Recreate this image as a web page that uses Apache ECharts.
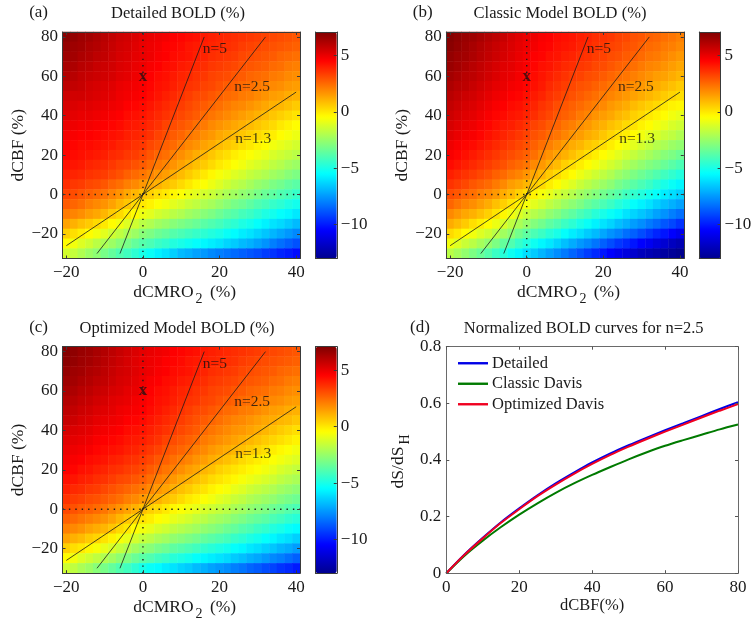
<!DOCTYPE html>
<html><head><meta charset="utf-8">
<style>html,body{margin:0;padding:0;background:#fff}#c{width:756px;height:623px}</style>
<script src="https://cdn.jsdelivr.net/npm/echarts@6/dist/echarts.min.js"></script>
</head><body><div id="c"></div>
<script>
const xCategories=[-20,-18,-16,-14,-12,-10,-8,-6,-4,-2,0,2,4,6,8,10,12,14,16,18,20,22,24,26,28,30,32,34,36,38,40];
const yCategories=[80,75,70,65,60,55,50,45,40,35,30,25,20,15,10,5,0,-5,-10,-15,-20,-25,-30];
const xTicks=[-20,0,20,40];
const yTicks=[-20,0,20,40,60,80];
const colorbarTicks=[-10,-5,0,5];
const detailedBold=[
[6.9,6.7,6.5,6.4,6.2,6.0,5.8,5.6,5.5,5.3,5.1,5.0,4.9,4.8,4.6,4.5,4.4,4.3,4.1,4.0,3.9,3.8,3.7,3.6,3.5,3.4,3.3,3.2,3.1,3.0,2.9],
[6.7,6.5,6.4,6.2,6.1,5.9,5.7,5.5,5.4,5.2,5.0,4.9,4.8,4.6,4.5,4.4,4.2,4.1,4.0,3.9,3.8,3.7,3.6,3.4,3.3,3.2,3.1,3.0,2.9,2.8,2.7],
[6.5,6.4,6.2,6.1,5.9,5.8,5.6,5.4,5.3,5.1,5.0,4.9,4.7,4.6,4.4,4.3,4.2,4.0,3.9,3.7,3.6,3.5,3.4,3.2,3.1,3.0,2.9,2.8,2.6,2.5,2.4],
[6.3,6.2,6.0,5.9,5.7,5.6,5.5,5.3,5.2,5.0,4.9,4.7,4.6,4.4,4.3,4.1,4.0,3.8,3.7,3.5,3.4,3.3,3.2,3.0,2.9,2.8,2.7,2.5,2.4,2.2,2.1],
[6.1,6.0,5.8,5.7,5.6,5.5,5.4,5.2,5.1,4.9,4.8,4.6,4.4,4.3,4.1,3.9,3.8,3.6,3.5,3.3,3.2,3.1,2.9,2.8,2.6,2.5,2.4,2.2,2.1,1.9,1.8],
[5.9,5.8,5.7,5.5,5.4,5.3,5.2,5.0,4.9,4.8,4.7,4.5,4.3,4.2,4.0,3.8,3.6,3.5,3.3,3.2,3.0,2.8,2.7,2.5,2.4,2.2,2.1,1.9,1.8,1.6,1.5],
[5.6,5.5,5.5,5.4,5.3,5.2,5.1,4.9,4.8,4.7,4.6,4.4,4.2,4.0,3.8,3.6,3.4,3.2,3.1,2.9,2.7,2.5,2.4,2.2,2.1,1.9,1.7,1.5,1.4,1.2,1.1],
[5.4,5.3,5.2,5.2,5.1,5.0,4.9,4.8,4.6,4.5,4.4,4.2,4.0,3.8,3.6,3.4,3.2,3.0,2.8,2.6,2.4,2.2,2.0,1.9,1.7,1.5,1.3,1.1,1.0,0.8,0.6],
[5.2,5.1,5.0,5.0,4.9,4.8,4.7,4.6,4.4,4.3,4.2,4.0,3.8,3.6,3.4,3.2,3.0,2.8,2.5,2.3,2.1,1.9,1.7,1.5,1.3,1.1,0.9,0.7,0.5,0.3,0.1],
[5.0,4.9,4.8,4.8,4.7,4.6,4.5,4.4,4.2,4.1,4.0,3.8,3.6,3.3,3.1,2.9,2.7,2.4,2.2,1.9,1.7,1.5,1.3,1.1,0.9,0.7,0.5,0.3,0,-0.2,-0.4],
[4.8,4.7,4.6,4.6,4.5,4.4,4.3,4.2,4.0,3.9,3.8,3.6,3.3,3.1,2.8,2.6,2.3,2.1,1.8,1.6,1.3,1.1,0.9,0.7,0.5,0.3,0.1,-0.1,-0.4,-0.6,-0.8],
[4.6,4.5,4.4,4.4,4.3,4.2,4.1,3.9,3.8,3.6,3.5,3.2,3.0,2.7,2.5,2.2,1.9,1.7,1.4,1.2,0.9,0.7,0.5,0.2,0,-0.2,-0.4,-0.7,-0.9,-1.1,-1.3],
[4.5,4.4,4.3,4.2,4.1,4.0,3.8,3.7,3.5,3.4,3.2,2.9,2.6,2.4,2.1,1.8,1.5,1.2,1.0,0.7,0.4,0.2,-0.1,-0.3,-0.5,-0.7,-0.9,-1.2,-1.4,-1.6,-1.8],
[4.3,4.2,4.1,3.9,3.8,3.7,3.5,3.3,3.2,3.0,2.8,2.5,2.2,2.0,1.7,1.4,1.1,0.8,0.6,0.3,0,-0.2,-0.5,-0.7,-1.0,-1.2,-1.4,-1.7,-1.9,-2.2,-2.4],
[4.0,3.9,3.8,3.6,3.5,3.4,3.2,3.0,2.7,2.5,2.3,2.0,1.7,1.5,1.2,0.9,0.6,0.3,0,-0.3,-0.6,-0.8,-1.1,-1.3,-1.6,-1.8,-2.0,-2.3,-2.5,-2.8,-3.0],
[3.7,3.5,3.4,3.2,3.1,2.9,2.6,2.4,2.1,1.9,1.6,1.3,1.1,0.8,0.6,0.3,0,-0.3,-0.5,-0.8,-1.1,-1.4,-1.7,-1.9,-2.2,-2.5,-2.7,-3.0,-3.2,-3.5,-3.7],
[3.3,3.1,2.9,2.7,2.5,2.3,2.0,1.7,1.3,1.0,0.7,0.5,0.2,0,-0.3,-0.5,-0.8,-1.0,-1.3,-1.5,-1.8,-2.1,-2.3,-2.6,-2.8,-3.1,-3.4,-3.6,-3.9,-4.1,-4.4],
[2.8,2.6,2.4,2.1,1.9,1.7,1.4,1.0,0.7,0.3,0,-0.2,-0.5,-0.7,-1.0,-1.2,-1.5,-1.7,-2.0,-2.2,-2.5,-2.8,-3.1,-3.3,-3.6,-3.9,-4.1,-4.4,-4.6,-4.9,-5.1],
[2.2,2.0,1.8,1.5,1.3,1.0,0.6,0.3,-0.1,-0.4,-0.8,-1.0,-1.3,-1.5,-1.8,-2.0,-2.3,-2.5,-2.8,-3.0,-3.3,-3.6,-3.8,-4.1,-4.3,-4.6,-4.9,-5.1,-5.4,-5.6,-5.9],
[1.4,1.1,0.8,0.6,0.3,0,-0.4,-0.7,-1.1,-1.4,-1.8,-2.0,-2.3,-2.5,-2.8,-3.0,-3.2,-3.4,-3.7,-3.9,-4.1,-4.4,-4.6,-4.9,-5.1,-5.4,-5.7,-6.0,-6.2,-6.5,-6.8],
[0.5,0.2,-0.1,-0.4,-0.7,-1,-1.4,-1.7,-2.1,-2.4,-2.8,-3.0,-3.3,-3.5,-3.8,-4,-4.2,-4.4,-4.6,-4.8,-5,-5.3,-5.5,-5.8,-6.0,-6.3,-6.6,-6.9,-7.2,-7.5,-7.8],
[-0.4,-0.7,-1.1,-1.4,-1.8,-2.1,-2.4,-2.8,-3.1,-3.5,-3.8,-4.0,-4.3,-4.5,-4.8,-5,-5.2,-5.4,-5.6,-5.8,-6,-6.3,-6.5,-6.8,-7,-7.3,-7.6,-8,-8.3,-8.6,-8.9],
[-1.3,-1.6,-2.0,-2.4,-2.7,-3.1,-3.5,-3.9,-4.2,-4.6,-5.0,-5.3,-5.7,-6.0,-6.4,-6.8,-7,-7.3,-7.5,-7.8,-8,-8.2,-8.4,-8.6,-8.8,-9,-9.3,-9.5,-9.8,-10,-10.3]
];
const classicBold=[
[7.0,6.8,6.6,6.5,6.3,6.1,5.9,5.7,5.4,5.2,5.0,4.9,4.7,4.6,4.4,4.3,4.2,4.0,3.9,3.7,3.6,3.5,3.3,3.2,3.0,2.9,2.7,2.6,2.4,2.3,2.1],
[6.9,6.7,6.5,6.3,6.1,5.9,5.7,5.5,5.3,5.1,4.9,4.8,4.6,4.5,4.3,4.2,4.1,3.9,3.8,3.6,3.5,3.3,3.2,3.0,2.9,2.7,2.5,2.4,2.2,2.1,1.9],
[6.7,6.5,6.4,6.2,6.0,5.8,5.6,5.4,5.2,5.0,4.8,4.6,4.5,4.3,4.2,4.0,3.9,3.7,3.6,3.4,3.3,3.1,3.0,2.8,2.7,2.5,2.3,2.2,2.0,1.8,1.6],
[6.6,6.4,6.2,6.0,5.8,5.6,5.4,5.2,5.1,4.9,4.7,4.5,4.3,4.2,4.0,3.8,3.7,3.5,3.4,3.2,3.1,2.9,2.7,2.6,2.4,2.2,2.0,1.9,1.7,1.5,1.3],
[6.4,6.2,6.0,5.9,5.7,5.5,5.3,5.1,5.0,4.8,4.6,4.4,4.2,4.0,3.8,3.6,3.4,3.3,3.1,3.0,2.8,2.6,2.4,2.3,2.1,1.9,1.7,1.5,1.4,1.2,1.0],
[6.2,6.0,5.9,5.7,5.5,5.3,5.1,5.0,4.8,4.7,4.5,4.3,4.1,3.8,3.6,3.4,3.2,3.0,2.9,2.7,2.5,2.3,2.1,2.0,1.8,1.6,1.4,1.2,1.0,0.8,0.6],
[6.0,5.8,5.6,5.5,5.3,5.1,4.9,4.8,4.6,4.5,4.3,4.1,3.9,3.6,3.4,3.2,3.0,2.8,2.6,2.4,2.2,2.0,1.8,1.6,1.4,1.2,1.0,0.8,0.6,0.4,0.2],
[5.8,5.6,5.4,5.3,5.1,4.9,4.7,4.6,4.4,4.3,4.1,3.9,3.6,3.4,3.1,2.9,2.7,2.5,2.3,2.1,1.9,1.6,1.4,1.2,0.9,0.7,0.5,0.3,0,-0.2,-0.3],
[5.6,5.4,5.2,5.1,4.9,4.7,4.5,4.4,4.2,4.1,3.9,3.7,3.4,3.2,2.9,2.7,2.5,2.2,2.0,1.7,1.5,1.3,1.0,0.8,0.5,0.3,0,-0.2,-0.4,-0.7,-0.9],
[5.4,5.2,5.0,4.9,4.7,4.5,4.3,4.1,4.0,3.8,3.6,3.3,3.1,2.8,2.6,2.3,2.1,1.8,1.6,1.3,1.1,0.8,0.6,0.3,0.1,-0.2,-0.4,-0.7,-0.9,-1.2,-1.4],
[5.2,5.0,4.8,4.7,4.5,4.3,4.1,3.9,3.7,3.5,3.3,3.0,2.8,2.5,2.3,2.0,1.7,1.5,1.2,1.0,0.7,0.4,0.1,-0.1,-0.4,-0.7,-1.0,-1.2,-1.5,-1.7,-2.0],
[4.9,4.7,4.5,4.4,4.2,4.0,3.8,3.6,3.4,3.2,3.0,2.7,2.4,2.1,1.8,1.5,1.2,1.0,0.7,0.5,0.2,-0.1,-0.4,-0.7,-1.0,-1.3,-1.6,-1.9,-2.1,-2.4,-2.6],
[4.7,4.5,4.3,4.1,3.9,3.7,3.5,3.3,3.1,2.9,2.7,2.4,2.0,1.7,1.4,1.1,0.8,0.5,0.2,-0.1,-0.4,-0.7,-1.0,-1.3,-1.6,-1.9,-2.2,-2.5,-2.8,-3.0,-3.3],
[4.4,4.2,4.0,3.8,3.6,3.4,3.2,3.0,2.7,2.5,2.3,1.9,1.6,1.2,0.9,0.5,0.2,-0.1,-0.4,-0.7,-1.0,-1.3,-1.6,-2.0,-2.3,-2.6,-2.9,-3.1,-3.4,-3.7,-4.0],
[4.0,3.8,3.6,3.4,3.2,3.0,2.7,2.5,2.2,2.0,1.7,1.3,1.0,0.6,0.3,-0.1,-0.4,-0.8,-1.1,-1.4,-1.7,-2.0,-2.4,-2.7,-3.0,-3.3,-3.6,-3.9,-4.2,-4.5,-4.8],
[3.6,3.4,3.2,2.9,2.7,2.5,2.2,1.9,1.5,1.3,1.0,0.6,0.3,-0.1,-0.4,-0.8,-1.1,-1.5,-1.8,-2.1,-2.4,-2.7,-3.1,-3.4,-3.7,-4.0,-4.3,-4.7,-5.0,-5.3,-5.6],
[3.1,2.9,2.6,2.4,2.1,1.9,1.6,1.2,0.9,0.5,0.2,-0.2,-0.6,-0.9,-1.3,-1.6,-1.9,-2.3,-2.6,-2.9,-3.2,-3.5,-3.8,-4.2,-4.5,-4.8,-5.1,-5.4,-5.8,-6.1,-6.4],
[2.6,2.3,2.0,1.8,1.5,1.2,0.8,0.5,0.1,-0.2,-0.6,-1.0,-1.3,-1.7,-2.0,-2.4,-2.7,-3.0,-3.4,-3.7,-4.0,-4.3,-4.7,-5.0,-5.4,-5.7,-6.0,-6.4,-6.7,-7.0,-7.3],
[1.9,1.6,1.3,1.1,0.8,0.5,0.1,-0.3,-0.7,-1.1,-1.5,-1.9,-2.2,-2.6,-2.9,-3.3,-3.6,-4.0,-4.3,-4.7,-5.0,-5.3,-5.6,-6.0,-6.3,-6.6,-6.9,-7.3,-7.6,-8.0,-8.3],
[1.2,0.9,0.6,0.2,-0.1,-0.4,-0.8,-1.2,-1.7,-2.1,-2.5,-2.9,-3.2,-3.6,-3.9,-4.3,-4.6,-5.0,-5.3,-5.7,-6,-6.3,-6.7,-7.0,-7.4,-7.7,-8.1,-8.4,-8.8,-9.1,-9.5],
[0.3,0,-0.4,-0.7,-1.1,-1.4,-1.8,-2.3,-2.7,-3.2,-3.6,-4.0,-4.3,-4.7,-5.0,-5.4,-5.8,-6.1,-6.5,-6.8,-7.2,-7.6,-7.9,-8.3,-8.6,-9,-9.4,-9.8,-10.1,-10.5,-10.9],
[-0.7,-1.1,-1.5,-1.8,-2.2,-2.6,-3.0,-3.5,-3.9,-4.4,-4.8,-5.2,-5.6,-5.9,-6.3,-6.7,-7.1,-7.5,-7.8,-8.2,-8.6,-9,-9.4,-9.7,-10.1,-10.5,-10.8,-11.2,-11.5,-11.9,-12.2],
[-1.8,-2.2,-2.6,-3.0,-3.4,-3.8,-4.3,-4.7,-5.2,-5.6,-6.1,-6.5,-6.9,-7.3,-7.7,-8.1,-8.5,-8.9,-9.3,-9.7,-10.1,-10.5,-10.9,-11.2,-11.6,-12,-12.2,-12.4,-12.6,-12.8,-13]
];
const optimizedBold=[
[7.0,6.8,6.6,6.5,6.3,6.1,5.9,5.7,5.5,5.3,5.1,5.0,4.9,4.8,4.6,4.5,4.4,4.3,4.1,4.0,3.9,3.8,3.7,3.6,3.5,3.4,3.3,3.2,3.1,3.0,2.9],
[6.9,6.7,6.5,6.4,6.2,6.0,5.8,5.6,5.4,5.2,5.0,4.9,4.8,4.6,4.5,4.4,4.2,4.1,4.0,3.9,3.8,3.7,3.6,3.4,3.3,3.2,3.1,3.0,2.9,2.8,2.7],
[6.7,6.5,6.4,6.2,6.1,5.9,5.7,5.5,5.4,5.2,5.0,4.9,4.7,4.6,4.4,4.3,4.2,4.0,3.9,3.7,3.6,3.5,3.4,3.2,3.1,3.0,2.9,2.8,2.6,2.5,2.4],
[6.5,6.4,6.2,6.1,5.9,5.8,5.6,5.4,5.3,5.1,4.9,4.7,4.6,4.4,4.3,4.1,4.0,3.8,3.7,3.5,3.4,3.3,3.2,3.0,2.9,2.8,2.7,2.5,2.4,2.2,2.1],
[6.3,6.2,6.0,5.9,5.7,5.6,5.4,5.3,5.1,5.0,4.8,4.6,4.4,4.3,4.1,3.9,3.8,3.6,3.5,3.3,3.2,3.1,2.9,2.8,2.6,2.5,2.4,2.2,2.1,1.9,1.8],
[6.1,6.0,5.8,5.7,5.5,5.4,5.2,5.1,5.0,4.8,4.7,4.5,4.3,4.2,4.0,3.8,3.6,3.5,3.3,3.2,3.0,2.8,2.7,2.5,2.4,2.2,2.1,1.9,1.8,1.6,1.5],
[5.9,5.8,5.6,5.5,5.3,5.2,5.1,4.9,4.8,4.7,4.6,4.4,4.2,4.0,3.8,3.6,3.4,3.2,3.1,2.9,2.7,2.5,2.4,2.2,2.1,1.9,1.7,1.5,1.4,1.2,1.1],
[5.7,5.6,5.4,5.3,5.1,5.0,4.9,4.8,4.6,4.5,4.4,4.2,4.0,3.8,3.6,3.4,3.2,3.0,2.8,2.6,2.4,2.2,2.0,1.9,1.7,1.5,1.3,1.2,1.0,0.9,0.7],
[5.4,5.3,5.2,5.1,4.9,4.8,4.7,4.6,4.4,4.3,4.2,4.0,3.8,3.6,3.4,3.2,3.0,2.8,2.5,2.3,2.1,1.9,1.7,1.6,1.4,1.2,1.0,0.8,0.6,0.4,0.2],
[5.2,5.1,5.0,4.9,4.7,4.6,4.5,4.4,4.2,4.1,4.0,3.8,3.6,3.3,3.1,2.9,2.7,2.5,2.2,2.0,1.8,1.6,1.4,1.2,1.0,0.8,0.6,0.4,0.2,0,-0.2],
[5.0,4.9,4.8,4.7,4.5,4.4,4.3,4.2,4.0,3.9,3.7,3.5,3.3,3.0,2.8,2.6,2.4,2.1,1.9,1.6,1.4,1.2,1.0,0.8,0.6,0.4,0.2,-0.1,-0.3,-0.5,-0.7],
[4.8,4.7,4.6,4.4,4.3,4.2,4.0,3.9,3.7,3.6,3.4,3.2,2.9,2.7,2.4,2.2,2.0,1.7,1.5,1.2,1.0,0.8,0.6,0.3,0.1,-0.1,-0.3,-0.5,-0.7,-0.9,-1.1],
[4.6,4.5,4.3,4.2,4.0,3.9,3.7,3.6,3.4,3.3,3.1,2.8,2.6,2.3,2.1,1.8,1.5,1.3,1.0,0.8,0.5,0.3,0.1,-0.1,-0.3,-0.5,-0.7,-0.9,-1.2,-1.4,-1.6],
[4.3,4.2,4.0,3.9,3.7,3.6,3.4,3.2,3.1,2.9,2.7,2.4,2.1,1.9,1.6,1.3,1.1,0.8,0.6,0.3,0.1,-0.1,-0.3,-0.6,-0.8,-1,-1.2,-1.4,-1.7,-1.9,-2.1],
[4.0,3.8,3.7,3.5,3.4,3.2,3.0,2.8,2.6,2.4,2.2,1.9,1.6,1.4,1.1,0.8,0.6,0.3,0.1,-0.2,-0.4,-0.6,-0.9,-1.1,-1.4,-1.6,-1.8,-2.0,-2.3,-2.5,-2.7],
[3.6,3.4,3.3,3.1,3.0,2.8,2.6,2.4,2.1,1.9,1.6,1.3,1.1,0.8,0.6,0.3,0,-0.2,-0.5,-0.7,-1,-1.2,-1.5,-1.7,-2.0,-2.2,-2.4,-2.6,-2.9,-3.1,-3.3],
[3.2,3.0,2.8,2.7,2.5,2.3,2.0,1.7,1.4,1.1,0.8,0.5,0.3,0,-0.3,-0.5,-0.7,-0.9,-1.2,-1.4,-1.6,-1.8,-2.1,-2.3,-2.6,-2.8,-3.0,-3.3,-3.5,-3.8,-4],
[2.7,2.5,2.3,2.1,1.9,1.7,1.4,1.0,0.7,0.4,0.1,-0.1,-0.4,-0.6,-0.9,-1.1,-1.3,-1.6,-1.8,-2.1,-2.3,-2.5,-2.8,-3.0,-3.3,-3.5,-3.7,-4.0,-4.2,-4.5,-4.7],
[2.1,1.9,1.7,1.4,1.2,1.0,0.7,0.3,0,-0.4,-0.7,-0.9,-1.2,-1.4,-1.7,-1.9,-2.1,-2.3,-2.6,-2.8,-3,-3.3,-3.5,-3.8,-4.0,-4.3,-4.5,-4.8,-5.0,-5.3,-5.5],
[1.4,1.1,0.9,0.6,0.4,0.1,-0.2,-0.6,-0.9,-1.3,-1.6,-1.8,-2.1,-2.3,-2.6,-2.8,-3,-3.2,-3.5,-3.7,-3.9,-4.1,-4.4,-4.6,-4.9,-5.1,-5.4,-5.6,-5.9,-6.1,-6.4],
[0.5,0.2,0,-0.3,-0.6,-0.9,-1.2,-1.6,-1.9,-2.3,-2.6,-2.8,-3.1,-3.3,-3.6,-3.8,-4,-4.2,-4.5,-4.7,-4.9,-5.1,-5.4,-5.6,-5.9,-6.1,-6.4,-6.6,-6.9,-7.1,-7.4],
[-0.4,-0.7,-1.1,-1.4,-1.7,-2,-2.3,-2.7,-3,-3.4,-3.7,-3.9,-4.2,-4.4,-4.7,-4.9,-5.1,-5.4,-5.6,-5.8,-6,-6.2,-6.5,-6.7,-7,-7.2,-7.5,-7.8,-8,-8.3,-8.6],
[-1.4,-1.7,-2.1,-2.4,-2.8,-3.1,-3.5,-3.9,-4.2,-4.6,-5,-5.3,-5.5,-5.8,-6,-6.3,-6.5,-6.8,-7,-7.3,-7.5,-7.7,-8,-8.2,-8.5,-8.7,-9,-9.2,-9.5,-9.7,-10]
];
const n5Line=[[-6,-30],[16,80]];
const n25Line=[[-12,-30],[32,80]];
const n13Line=[[-20,-26],[40,52]];
const zeroVertical=[[0,-32.5],[0,82.5]];
const zeroHorizontal=[[-21,0],[41,0]];
const mapLabels=[[18.8,74,'n=5'],[28.5,54.7,'n=2.5'],[28.8,28,'n=1.3']];
const xMark=[[0,60,'x']];
const dCBF=[0,5,10,15,20,25,30,35,40,45,50,55,60,65,70,75,80];
const curveDetailed=[0,0.066,0.125,0.18,0.229,0.275,0.317,0.355,0.391,0.423,0.452,0.479,0.505,0.53,0.555,0.58,0.604];
const curveClassic=[0,0.062,0.115,0.163,0.207,0.247,0.284,0.317,0.347,0.375,0.402,0.427,0.45,0.47,0.489,0.508,0.525];
const curveOptimized=[0,0.065,0.123,0.178,0.226,0.272,0.313,0.351,0.386,0.418,0.447,0.474,0.5,0.525,0.55,0.574,0.597];

const FONT='"Liberation Serif","Times New Roman",serif';
const TEXT='#1a1a1a', FRAME='#3a3a3a';
const JET=['#00008f','#0000ff','#0080ff','#00ffff','#80ff80','#ffff00','#ff8000','#ff0000','#800000'];
const panels=[
 {rows:detailedBold,l:62.5,t:32,bar:315.5,title:'Detailed BOLD (%)',tag:'(a)',tc:178,ty:14,gc:38.6},
 {rows:classicBold,l:446.3,t:32,bar:699.3,title:'Classic Model BOLD (%)',tag:'(b)',tc:560,ty:14,gc:422.7},
 {rows:optimizedBold,l:62.5,t:346.7,bar:315.5,title:'Optimized Model BOLD (%)',tag:'(c)',tc:177,ty:329,gc:38.6}
];
const W=237.5,H=226.5;
const minus=v=>String(v).replace('-','\u2212');
const grids=[],xAxes=[],yAxes=[],series=[],vms=[],titles=[];
const tickFn=list=>(i,v)=>list.indexOf(Number(v))>=0;
const rich={s:{fontFamily:FONT,fontSize:14,color:TEXT,padding:[14,3,0,2]}};
const nameStyle={fontFamily:FONT,fontSize:17.5,color:TEXT,rich};
function addTitle(text,cx,cy,size){titles.push({text,left:cx,top:cy-size/2-1,textAlign:'center',padding:0,textStyle:{fontFamily:FONT,fontSize:size,fontWeight:'normal',color:TEXT}});}
function heatCells(rows){const out=[];rows.forEach((r,ri)=>r.forEach((v,ci)=>out.push([ci,yCategories.length-1-ri,v])));return out;}
const yCatAsc=yCategories.slice().reverse();

panels.forEach((p,pi)=>{
  const g=grids.length;
  grids.push({left:p.l,top:p.t,width:W,height:H,containLabel:false});
  const lineCommon={show:true,lineStyle:{color:FRAME,width:1},onZero:false};
  const xa=xAxes.length, ya=yAxes.length;
  xAxes.push({gridIndex:g,type:'category',position:'bottom',data:xCategories,z:10,axisLine:lineCommon,
    axisTick:{show:true,inside:true,length:3,alignWithLabel:true,interval:tickFn(xTicks),lineStyle:{color:FRAME}},
    axisLabel:{show:true,interval:tickFn(xTicks),margin:6,fontFamily:FONT,fontSize:17,color:TEXT,formatter:minus,hideOverlap:false},
    splitLine:{show:false},name:'dCMRO{s|2} (%)',nameLocation:'middle',nameGap:20,nameTextStyle:Object.assign({},nameStyle,{padding:[0,0,0,7]})});
  yAxes.push({gridIndex:g,type:'category',position:'left',data:yCatAsc,z:10,axisLine:lineCommon,
    axisTick:{show:true,inside:true,length:3,alignWithLabel:true,interval:tickFn(yTicks),lineStyle:{color:FRAME}},
    axisLabel:{show:true,interval:tickFn(yTicks),margin:4.5,fontFamily:FONT,fontSize:17,color:TEXT,formatter:minus,hideOverlap:false},
    splitLine:{show:false},name:'dCBF (%)',nameLocation:'middle',nameGap:33,nameTextStyle:nameStyle});
  xAxes.push({gridIndex:g,type:'value',position:'top',min:-21,max:41,z:10,axisLine:lineCommon,
    axisTick:{show:true,inside:true,length:3,customValues:xTicks,lineStyle:{color:FRAME}},axisLabel:{show:false},splitLine:{show:false}});
  yAxes.push({gridIndex:g,type:'value',position:'right',min:-32.5,max:82.5,z:10,axisLine:lineCommon,
    axisTick:{show:true,inside:true,length:3,customValues:yTicks,lineStyle:{color:FRAME}},axisLabel:{show:false},splitLine:{show:false}});
  const heatIndex=series.length;
  series.push({type:'heatmap',xAxisIndex:xa,yAxisIndex:ya,data:heatCells(p.rows),z:2,silent:true,itemStyle:{borderWidth:0},emphasis:{disabled:true},progressive:0});
  vms.push({type:'continuous',min:-13,max:7.1,seriesIndex:heatIndex,show:true,calculable:false,hoverLink:false,left:p.bar,top:p.t,itemWidth:21.3,itemHeight:H,padding:0,text:null,showLabel:false,inRange:{color:JET}});
  const line=(d,w,type)=>({type:'line',xAxisIndex:xa+1,yAxisIndex:ya+1,data:d,symbol:'none',silent:true,z:5,animation:false,lineStyle:{color:'#1c1c1c',width:w,type:type||'solid'}});
  series.push(line(n5Line,0.8),line(n25Line,0.8),line(n13Line,0.8));
  series.push(line(zeroVertical,1.4,[1.4,5]),line(zeroHorizontal,1.4,[1.4,5]));
  series.push({type:'scatter',xAxisIndex:xa+1,yAxisIndex:ya+1,data:mapLabels,symbolSize:0,silent:true,z:6,
    label:{show:true,position:'inside',formatter:q=>q.value[2],fontFamily:FONT,fontSize:15.5,color:'#111'}});
  series.push({type:'scatter',xAxisIndex:xa+1,yAxisIndex:ya+1,data:xMark,symbolSize:0,silent:true,z:6,
    label:{show:true,position:'inside',formatter:q=>q.value[2],fontFamily:FONT,fontSize:17,fontWeight:'bold',color:'#2a1010'}});
  addTitle(p.title,p.tc,p.ty,16.5);
  addTitle(p.tag,p.gc,p.ty,17);
  const gb=grids.length;
  grids.push({left:p.bar,top:p.t,width:21.3,height:H,containLabel:false,z:10});
  xAxes.push({gridIndex:gb,type:'value',show:true,position:'top',min:0,max:1,z:10,axisLine:lineCommon,axisTick:{show:false},axisLabel:{show:false},splitLine:{show:false}});
  xAxes.push({gridIndex:gb,type:'value',show:true,position:'bottom',min:0,max:1,z:10,axisLine:lineCommon,axisTick:{show:false},axisLabel:{show:false},splitLine:{show:false}});
  yAxes.push({gridIndex:gb,type:'value',position:'right',min:-13,max:7.1,z:10,axisLine:lineCommon,
    axisTick:{show:true,inside:true,length:3,customValues:colorbarTicks,lineStyle:{color:FRAME}},
    axisLabel:{show:true,customValues:colorbarTicks,margin:4,fontFamily:FONT,fontSize:17,color:TEXT,formatter:minus,hideOverlap:false},splitLine:{show:false}});
  yAxes.push({gridIndex:gb,type:'value',position:'left',min:-13,max:7.1,z:10,axisLine:lineCommon,axisTick:{show:false},axisLabel:{show:false},splitLine:{show:false}});
});

const gd=grids.length;
grids.push({left:446.3,top:346.7,width:291.7,height:226.5,containLabel:false});
const dFrame={show:true,lineStyle:{color:'#6a6a6a',width:1},onZero:false};
const dxa=xAxes.length, dya=yAxes.length;
xAxes.push({gridIndex:gd,type:'value',position:'bottom',min:0,max:80,interval:20,z:10,axisLine:dFrame,
  axisTick:{show:true,inside:true,length:3,lineStyle:{color:'#555'}},axisLabel:{margin:6,fontFamily:FONT,fontSize:17,color:TEXT,hideOverlap:false,showMinLabel:true,showMaxLabel:true},splitLine:{show:false},
  name:'dCBF(%)',nameLocation:'middle',nameGap:24,nameTextStyle:{fontFamily:FONT,fontSize:16.5,color:TEXT}});
yAxes.push({gridIndex:gd,type:'value',position:'left',min:0,max:0.8,interval:0.2,z:10,axisLine:dFrame,
  axisTick:{show:true,inside:true,length:3,lineStyle:{color:'#555'}},axisLabel:{margin:5,fontFamily:FONT,fontSize:17,color:TEXT,hideOverlap:false,formatter:v=>v===0?'0':v.toFixed(1)},splitLine:{show:false},
  name:'dS/dS{s|H}',nameLocation:'middle',nameGap:34,nameTextStyle:nameStyle});
xAxes.push({gridIndex:gd,type:'value',position:'top',min:0,max:80,interval:20,z:10,axisLine:dFrame,axisTick:{show:true,inside:true,length:3,lineStyle:{color:'#555'}},axisLabel:{show:false},splitLine:{show:false}});
yAxes.push({gridIndex:gd,type:'value',position:'right',min:0,max:0.8,interval:0.2,z:10,axisLine:dFrame,axisTick:{show:true,inside:true,length:3,lineStyle:{color:'#555'}},axisLabel:{show:false},splitLine:{show:false}});
const curve=(name,ys,color)=>({type:'line',name,xAxisIndex:dxa,yAxisIndex:dya,data:dCBF.map((x,i)=>[x,ys[i]]),symbol:'none',smooth:0.3,silent:true,z:5,lineStyle:{color,width:2},itemStyle:{color}});
series.push(curve('Detailed',curveDetailed,'#0000e6'),curve('Classic Davis',curveClassic,'#007a00'),curve('Optimized Davis',curveOptimized,'#f00020'));
addTitle('Normalized BOLD curves for n=2.5',583.7,329,16.5);
addTitle('(d)',420,329,17);

const chart=echarts.init(document.getElementById('c'),null,{renderer:'canvas',width:756,height:623});
chart.setOption({
  animation:false,backgroundColor:'#fff',textStyle:{fontFamily:FONT},
  title:titles,grid:grids,xAxis:xAxes,yAxis:yAxes,visualMap:vms,series,
  legend:{data:['Detailed','Classic Davis','Optimized Davis'],left:458,top:354,orient:'vertical',icon:'rect',itemWidth:30,itemHeight:2.4,itemGap:2,selectedMode:false,padding:0,z:20,
    textStyle:{fontFamily:FONT,fontSize:16.5,color:TEXT,lineHeight:18.5,padding:[0,0,0,-1]}},
  tooltip:{show:false}
});
</script></body></html>
